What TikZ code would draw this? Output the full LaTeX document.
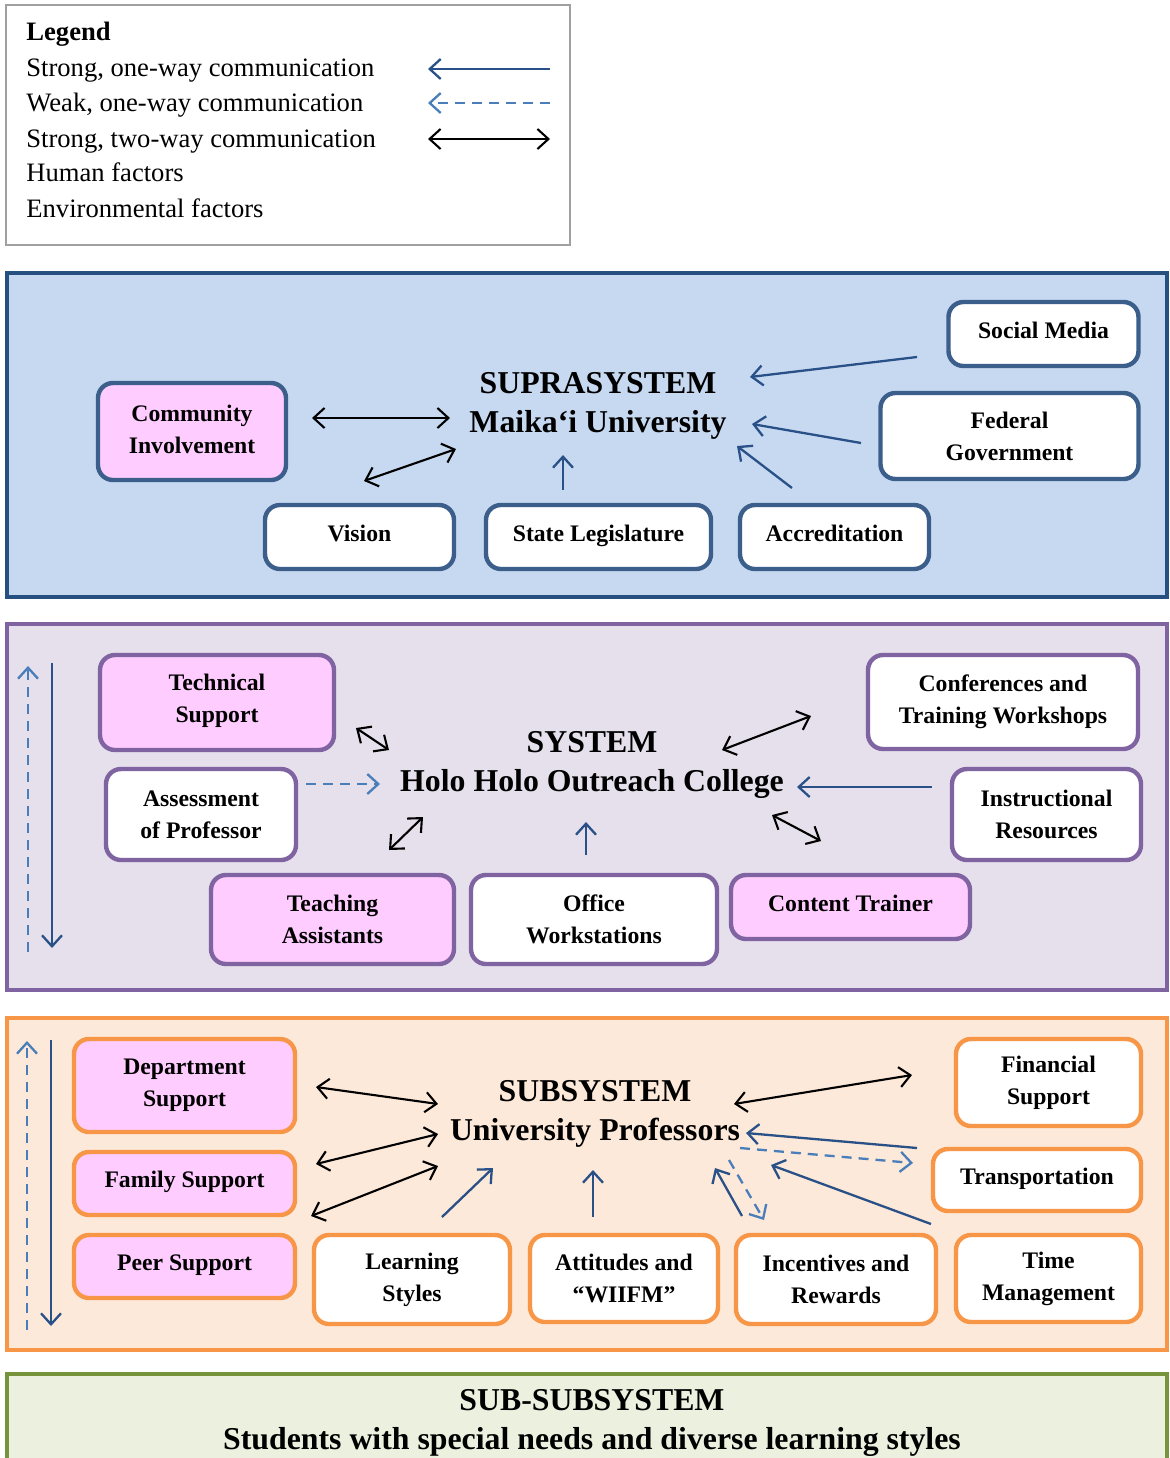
\documentclass[tikz,border=0pt]{standalone}
\usepackage{fontspec}
\setmainfont{Liberation Serif}
\usetikzlibrary{arrows.meta}
\definecolor{supfill}{HTML}{C6D9F1}
\definecolor{supline}{HTML}{25507F}
\definecolor{supbox}{HTML}{3B5E8B}
\definecolor{sysfill}{HTML}{E5E0EC}
\definecolor{sysline}{HTML}{8064A2}
\definecolor{subfill}{HTML}{FDE9D9}
\definecolor{subline}{HTML}{F79646}
\definecolor{ssfill}{HTML}{EBF1DE}
\definecolor{ssline}{HTML}{77933C}
\definecolor{pinkf}{HTML}{FFCCFF}
\definecolor{arrblue}{HTML}{2A5187}
\definecolor{arrlight}{HTML}{4A7EBB}
\definecolor{leggray}{HTML}{A0A0A0}
\tikzset{
  panel/.style={line width=2pt},
  box/.style={rounded corners=7.5pt, line width=2.2pt, align=center, inner sep=0pt,
     font=\fontsize{11.85}{16}\selectfont\bfseries},
  oneline/.style={text depth=4pt},
  suprabox/.style={box, draw=supbox},
  sysbox/.style={box, draw=sysline},
  subbox/.style={box, draw=subline},
  title/.style={align=center, font=\fontsize{15.9}{19.2}\selectfont\bfseries},
  legtext/.style={anchor=base west, inner sep=0pt, font=\fontsize{13.3}{16}\selectfont},
  strong/.style={draw=arrblue, line width=1.15pt, -{Straight Barb[length=5.5pt,width=10pt]}},
  weak/.style={draw=arrlight, line width=1.15pt, dash pattern=on 5pt off 3.5pt, -{Straight Barb[length=5.5pt,width=10pt]}},
  twoway/.style={draw=black, line width=1.05pt, {Straight Barb[length=5.5pt,width=10pt]}-{Straight Barb[length=5.5pt,width=10pt]}},
}
\begin{document}
\begin{tikzpicture}[x=0.5pt,y=-0.5pt]
\useasboundingbox (0,0) rectangle (1169,1458);
\fill[white] (0,0) rectangle (1169,1458);

% ---------- Legend ----------
\draw[leggray, line width=0.7pt] (6,5) rectangle (570,245);
\node[legtext, font=\fontsize{13.3}{16}\selectfont\bfseries] (lg0) at (26,40) {Legend};
\node[legtext] (lg1) at (26,76) {Strong, one-way communication};
\node[legtext] (lg2) at (26,111) {Weak, one-way communication};
\node[legtext] (lg3) at (26,147) {Strong, two-way communication};
\node[legtext] (lg4) at (26,181) {Human factors};
\node[legtext] (lg5) at (26,217) {Environmental factors};
\coordinate (la1) at (550,69); \coordinate (lb1) at (428,69);
\coordinate (la2) at (550,103); \coordinate (lb2) at (428,103);
\coordinate (la3) at (428,139); \coordinate (lb3) at (550,139);
\draw[strong] (la1) -- (lb1);
\draw[weak] (la2) -- (lb2);
\draw[twoway] (la3) -- (lb3);

% ---------- Suprasystem ----------
\draw[panel, draw=supline, fill=supfill] (7,273) rectangle (1167,597);
\node[suprabox, oneline, fill=white, minimum width=95pt, minimum height=32pt] (soc) at (1043.5,334) {Social Media};
\node[suprabox, fill=white, minimum width=129pt, minimum height=43pt] (fed) at (1009.5,436) {Federal\\Government};
\node[suprabox, fill=pinkf, text depth=2.5pt, minimum width=94pt, minimum height=48.5pt] (com) at (192,431.5) {Community\\Involvement};
\node[suprabox, oneline, fill=white, minimum width=94.5pt, minimum height=32pt] (vis) at (359.5,537) {Vision};
\node[suprabox, oneline, fill=white, minimum width=112.5pt, minimum height=32pt] (sta) at (598.5,537) {State Legislature};
\node[suprabox, oneline, fill=white, minimum width=94.5pt, minimum height=32pt] (acc) at (834.5,537) {Accreditation};
\node[title] (supT) at (598,406) {SUPRASYSTEM\\Maika‘i University};
\coordinate (s1a) at (312,418); \coordinate (s1b) at (450,418);
\coordinate (s2a) at (364,481); \coordinate (s2b) at (456,449);
\coordinate (s3a) at (563,490); \coordinate (s3b) at (563,455);
\coordinate (s4a) at (917,357); \coordinate (s4b) at (750,377);
\coordinate (s5a) at (861,443); \coordinate (s5b) at (752,424);
\coordinate (s6a) at (792,488); \coordinate (s6b) at (737,446);
\draw[twoway] (s1a) -- (s1b);
\draw[twoway] (s2a) -- (s2b);
\draw[strong] (s3a) -- (s3b);
\draw[strong] (s4a) -- (s4b);
\draw[strong] (s5a) -- (s5b);
\draw[strong] (s6a) -- (s6b);

% ---------- System ----------
\draw[panel, draw=sysline, fill=sysfill] (7,624) rectangle (1167,990);
\node[sysbox, fill=pinkf, text depth=4.5pt, minimum width=117pt, minimum height=47.5pt] (tec) at (217,702.5) {Technical\\Support};
\node[sysbox, fill=white, minimum width=95pt, minimum height=45.5pt] (ass) at (201,814.5) {Assessment\\of Professor};
\node[sysbox, fill=pinkf, minimum width=121.5pt, minimum height=44.5pt] (tea) at (332.5,919.5) {Teaching\\Assistants};
\node[sysbox, fill=white, minimum width=123pt, minimum height=44.5pt] (off) at (594,919.5) {Office\\Workstations};
\node[sysbox, oneline, fill=pinkf, minimum width=119.5pt, minimum height=32pt] (cnt) at (850.5,907) {Content Trainer};
\node[sysbox, fill=white, minimum width=135pt, minimum height=47pt] (cnf) at (1003,702) {Conferences and\\Training Workshops};
\node[sysbox, fill=white, minimum width=94.5pt, minimum height=45.5pt] (ins) at (1046.5,814.5) {Instructional\\Resources};
\node[title] (sysT) at (592,765) {SYSTEM\\Holo Holo Outreach College};
\coordinate (y1a) at (356,728); \coordinate (y1b) at (389,750);
\coordinate (y2a) at (306,784); \coordinate (y2b) at (380,784);
\coordinate (y3a) at (389,850); \coordinate (y3b) at (423,817);
\coordinate (y4a) at (586,855); \coordinate (y4b) at (586,822);
\coordinate (y5a) at (722,750); \coordinate (y5b) at (811,716);
\coordinate (y6a) at (932,787); \coordinate (y6b) at (797,787);
\coordinate (y7a) at (772,815); \coordinate (y7b) at (821,841);
\coordinate (y8a) at (28,952); \coordinate (y8b) at (28,666);
\coordinate (y9a) at (52,663); \coordinate (y9b) at (52,948);
\draw[twoway] (y1a) -- (y1b);
\draw[weak] (y2a) -- (y2b);
\draw[twoway] (y3a) -- (y3b);
\draw[strong] (y4a) -- (y4b);
\draw[twoway] (y5a) -- (y5b);
\draw[strong] (y6a) -- (y6b);
\draw[twoway] (y7a) -- (y7b);
\draw[weak] (y8a) -- (y8b);
\draw[strong] (y9a) -- (y9b);

% ---------- Subsystem ----------
\draw[panel, draw=subline, fill=subfill] (7,1018) rectangle (1167,1350);
\node[subbox, fill=pinkf, minimum width=110.5pt, minimum height=46.5pt] (dep) at (184.5,1085.5) {Department\\Support};
\node[subbox, oneline, fill=pinkf, minimum width=110.5pt, minimum height=31.5pt] (fam) at (184.5,1183.5) {Family Support};
\node[subbox, oneline, fill=pinkf, minimum width=110.5pt, minimum height=31.5pt] (pee) at (184.5,1266.5) {Peer Support};
\node[subbox, fill=white, minimum width=98pt, minimum height=44.5pt] (lea) at (412,1279.5) {Learning\\Styles};
\node[subbox, fill=white, minimum width=94pt, minimum height=43.5pt] (att) at (624,1278.5) {Attitudes and\\“WIIFM”};
\node[subbox, fill=white, minimum width=100pt, minimum height=44.5pt] (inc) at (836,1279.5) {Incentives and\\Rewards};
\node[subbox, fill=white, minimum width=92.5pt, minimum height=43.5pt] (tim) at (1048.5,1278.5) {Time\\Management};
\node[subbox, fill=white, minimum width=92.5pt, minimum height=43.5pt] (fin) at (1048.5,1082.5) {Financial\\Support};
\node[subbox, oneline, fill=white, minimum width=104pt, minimum height=31pt] (tra) at (1037,1180) {Transportation};
\node[title] (subT) at (595,1114) {SUBSYSTEM\\University Professors};
\coordinate (u1a) at (316,1087); \coordinate (u1b) at (438,1104);
\coordinate (u2a) at (316,1164); \coordinate (u2b) at (438,1134);
\coordinate (u3a) at (311,1216); \coordinate (u3b) at (438,1166);
\coordinate (u4a) at (442,1217); \coordinate (u4b) at (493,1168);
\coordinate (u5a) at (593,1217); \coordinate (u5b) at (593,1170);
\coordinate (u6a) at (742,1216); \coordinate (u6b) at (715,1168);
\coordinate (u7a) at (729,1160); \coordinate (u7b) at (764,1220);
\coordinate (u8a) at (917,1148); \coordinate (u8b) at (746,1133);
\coordinate (u9a) at (740,1148); \coordinate (u9b) at (913,1163);
\coordinate (u10a) at (931,1224); \coordinate (u10b) at (771,1165);
\coordinate (u11a) at (734,1104); \coordinate (u11b) at (912,1075);
\coordinate (u12a) at (27,1330); \coordinate (u12b) at (27,1041);
\coordinate (u13a) at (51,1040); \coordinate (u13b) at (51,1326);
\draw[twoway] (u1a) -- (u1b);
\draw[twoway] (u2a) -- (u2b);
\draw[twoway] (u3a) -- (u3b);
\draw[strong] (u4a) -- (u4b);
\draw[strong] (u5a) -- (u5b);
\draw[strong] (u6a) -- (u6b);
\draw[weak] (u7a) -- (u7b);
\draw[strong] (u8a) -- (u8b);
\draw[weak] (u9a) -- (u9b);
\draw[strong] (u10a) -- (u10b);
\draw[twoway] (u11a) -- (u11b);
\draw[weak] (u12a) -- (u12b);
\draw[strong] (u13a) -- (u13b);

% ---------- Sub-subsystem ----------
\draw[panel, draw=ssline, fill=ssfill] (7,1374) rectangle (1167,1462);
\node[title] (ssT) at (592,1423) {SUB-SUBSYSTEM\\Students with special needs and diverse learning styles};
\end{tikzpicture}
\end{document}
